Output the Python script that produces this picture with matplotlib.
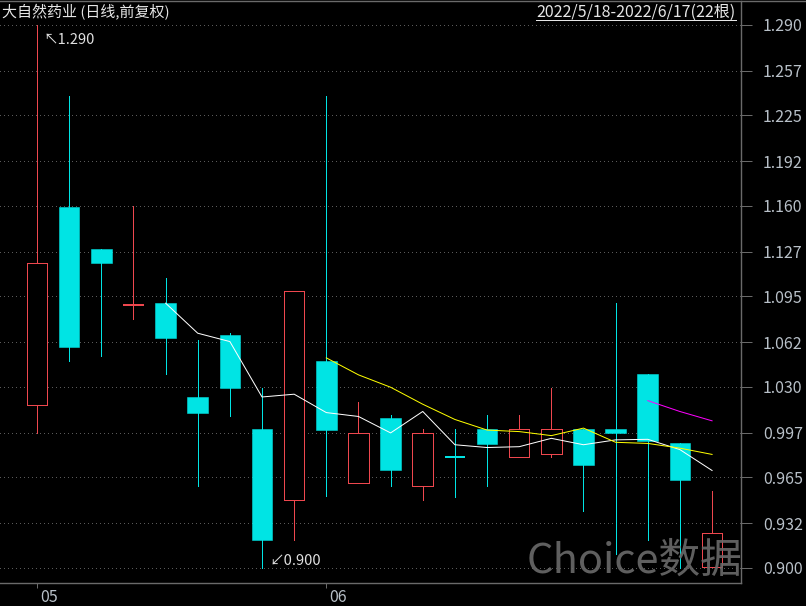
import numpy as np
import pandas as pd
import matplotlib
matplotlib.use('Agg')
import matplotlib.pyplot as plt
import matplotlib.transforms as mtrans
from matplotlib.patches import Rectangle
from matplotlib.lines import Line2D

plt.rcParams['font.family'] = ['Noto Sans CJK SC', 'DejaVu Sans']

## Data: daily candles 2022/5/18 - 2022/6/17 (22 bars)
opens  = [1.017, 1.159, 1.129, 1.089, 1.090, 1.023, 1.067, 1.000, 0.949, 1.049, 0.961,
          1.008, 0.959, 0.980, 1.000, 0.980, 0.982, 1.000, 1.000, 1.039, 0.990, 0.901]
highs  = [1.290, 1.239, 1.129, 1.160, 1.108, 1.064, 1.069, 1.029, 1.099, 1.239, 1.019,
          1.010, 1.000, 1.000, 1.010, 1.010, 1.029, 1.000, 1.090, 1.039, 0.990, 0.955]
lows   = [0.997, 1.049, 1.052, 1.079, 1.039, 0.959, 1.009, 0.900, 0.920, 0.952, 0.961,
          0.959, 0.949, 0.951, 0.959, 0.980, 0.980, 0.941, 0.910, 0.920, 0.900, 0.901]
closes = [1.119, 1.059, 1.119, 1.089, 1.065, 1.011, 1.029, 0.920, 1.099, 0.999, 0.997,
          0.970, 0.997, 0.9795, 0.989, 1.000, 1.000, 0.974, 0.997, 0.991, 0.963, 0.925]

yticks = [0.900, 0.932, 0.965, 0.997, 1.030, 1.062, 1.095, 1.127, 1.160, 1.192, 1.225, 1.257, 1.290]
ytick_labels = ['0.900', '0.932', '0.965', '0.997', '1.030', '1.062', '1.095', '1.127',
                '1.160', '1.192', '1.225', '1.257', '1.290']
month_pos = [0, 9]
month_labels = ['05', '06']

df = pd.DataFrame({'open': opens, 'high': highs, 'low': lows, 'close': closes})
df['ma5'] = df['close'].rolling(5).mean()     # white
df['ma10'] = df['close'].rolling(10).mean()   # yellow
df['ma20'] = df['close'].rolling(20).mean()   # magenta

## colours
up_col = '#ee474e'
dn_col = '#00e4e4'
axis_col = '#6a6a6a'
txt_col = '#b8c0c8'

fig = plt.figure(figsize=(8.06, 6.06), dpi=100, facecolor='black')
W, H = 806, 606
ax = fig.add_axes([0, (H - 583) / H, 741 / W, (583 - 1) / H])
ax.set_facecolor('black')

ax.set_xlim(-1.151, 21.90)
ax.set_ylim(0.8892, 1.3072)

px = 0.72   # one pixel in points
bw = 0.64   # body width

for i, r in df.iterrows():
    o, h, l, c = r['open'], r['high'], r['low'], r['close']
    col = up_col if c >= o else dn_col
    ax.plot([i, i], [l, h], color=col, lw=px, zorder=2, solid_capstyle='butt',
            antialiased=False)
    if abs(c - o) < 0.001:
        ax.plot([i - bw / 2, i + bw / 2], [o, o], color=col, lw=2 * px, zorder=3,
                solid_capstyle='butt', antialiased=False)
    elif c > o:
        ax.add_patch(Rectangle((i - bw / 2, o), bw, c - o, facecolor='black',
                               edgecolor=col, lw=px, zorder=3, antialiased=False))
    else:
        ax.add_patch(Rectangle((i - bw / 2, c), bw, o - c, facecolor=col,
                               edgecolor=col, lw=0.5 * px, zorder=3))

x = np.arange(len(df))
ax.plot(x, df['ma5'], color='white', lw=px, zorder=4)
ax.plot(x, df['ma10'], color='#ffff00', lw=px, zorder=4)
ax.plot(x, df['ma20'], color='#ff00ff', lw=px, zorder=4)

# grid
for yv in yticks:
    ax.axhline(yv, color='#5a5a5a', lw=px, ls=(0, (1, 3)), zorder=1, antialiased=False)

# axes / spines
for s in ['left', 'top']:
    ax.spines[s].set_visible(False)
ax.spines['right'].set_color(axis_col)
ax.spines['bottom'].set_color(axis_col)
ax.spines['right'].set_linewidth(1.4 * px)
ax.spines['bottom'].set_linewidth(1.4 * px)

ax.yaxis.tick_right()
ax.set_yticks(yticks)
ax.set_yticklabels(ytick_labels)
ax.tick_params(axis='y', direction='out', length=11 * px, width=px, color=axis_col,
               labelcolor=txt_col, labelsize=11.5, pad=11 * px)
ax.set_xticks(month_pos)
ax.set_xticklabels(month_labels, ha='left')
ax.tick_params(axis='x', direction='out', length=5 * px, width=px, color=axis_col,
               labelcolor=txt_col, labelsize=11.5, pad=1)
off = mtrans.ScaledTranslation(3 / 100, 0, fig.dpi_scale_trans)
for lab in ax.get_xticklabels():
    lab.set_transform(lab.get_transform() + off)

# max / min annotations
imax = int(np.argmax(highs))
imin = int(np.argmin(lows))
ax.annotate('↖' + '%.3f' % highs[imax], xy=(imax, highs[imax]), xytext=(6 * px, -15 * px),
            textcoords='offset points', ha='left', va='center', color='#e0e0e0',
            fontsize=10.5, zorder=6)
ax.annotate('↙' + '%.3f' % lows[imin], xy=(imin, lows[imin]), xytext=(7 * px, 7 * px),
            textcoords='offset points', ha='left', va='center', color='#e0e0e0',
            fontsize=10.5, zorder=6)

# titles
fig.text(2 / W, 1 - 12 / H, '大自然药业 (日线,前复权)', color='#e6e6e6', fontsize=10.8,
         ha='left', va='center')
fig.text(736 / W, 1 - 12 / H, '2022/5/18-2022/6/17(22根)', color='#e6e6e6',
         fontsize=11.5, ha='right', va='center')
fig.add_artist(Line2D([536 / W, 736 / W], [1 - 20 / H, 1 - 20 / H], color='#e6e6e6', lw=px))

# top border line
fig.add_artist(Line2D([0, 1], [1 - 1 / H, 1 - 1 / H], color=axis_col, lw=1.4 * px))

# watermark
fig.text(527 / W, 1 - 561 / H, 'Choice数据', color='#6a6a6a', alpha=0.9, fontsize=30,
         ha='left', va='center', zorder=5)

fig.savefig('out.png', dpi=100, facecolor='black')
